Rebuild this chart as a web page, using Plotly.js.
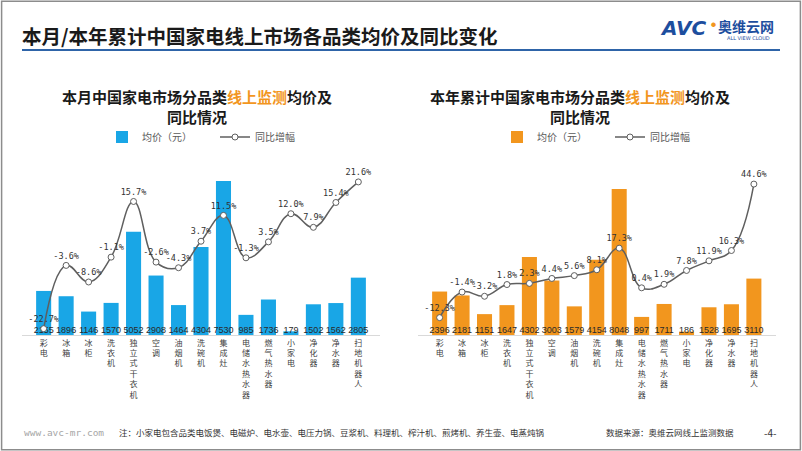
<!DOCTYPE html>
<html>
<head>
<meta charset="utf-8">
<script src="https://cdn.plot.ly/plotly-3.0.1.min.js"></script>
<style>
html,body{margin:0;padding:0;background:#fff;}
#chart{width:802px;height:451px;}
</style>
</head>
<body>
<div id="chart"></div>
<script>
// ---- data ----
const categories = ['彩电','冰箱','冰柜','洗衣机','独立式干衣机','空调','油烟机','洗碗机','集成灶','电储水热水器','燃气热水器','小家电','净化器','净水器','扫地机器人'];
const monthPrice = [2155,1896,1146,1570,5052,2908,1464,4304,7530,985,1736,179,1502,1562,2805];
const monthYoY   = [-22.7,-3.6,-8.6,-1.1,15.7,-2.6,-4.3,3.7,11.5,-1.3,3.5,12.0,7.9,15.4,21.6];
const ytdPrice   = [2396,2181,1151,1647,4302,3003,1579,4154,8048,997,1711,186,1528,1695,3110];
const ytdYoY     = [-12.3,-1.4,-3.2,1.8,2.3,4.4,5.6,8.1,17.3,0.4,1.9,7.8,11.9,16.3,44.6];
const seriesNames = ['均价（元）','同比增幅'];
const tickText = categories.map(c => c.split('').join('<br>'));
const zeros = categories.map(() => 0);

const FONT = '"Noto Sans CJK SC", "Noto Sans", sans-serif';
const BLUE = '#19A6E6';
const ORANGE = '#F2961E';
const LINE = '#5f5f5f';

function traces(prices, yoy, color, xa, yb, yl, leg) {
  return [
    {type:'bar', x:categories, y:prices, xaxis:xa, yaxis:yb, name:seriesNames[0],
     marker:{color:color}, width:0.67, legend:leg, hoverinfo:'skip'},
    {type:'scatter', mode:'text', x:categories, y:zeros, xaxis:xa, yaxis:yb,
     text:prices.map(String), textposition:'top center', showlegend:false,
     textfont:{size:9, color:'#2a2a2a', family:'"Liberation Sans", Arial, sans-serif'}, cliponaxis:false, hoverinfo:'skip'},
    {type:'scatter', mode:'lines+markers+text', x:categories, y:yoy, xaxis:xa, yaxis:yl,
     name:seriesNames[1], legend:leg,
     line:{color:LINE, width:1.5, shape:'spline', smoothing:1.2},
     marker:{size:6, color:'#fff', line:{color:LINE, width:1}},
     text:yoy.map(v => v.toFixed(1)+'%'), textposition:'top center',
     textfont:{size:8.5, color:'#333', family:'"DejaVu Sans Mono", monospace'}, cliponaxis:false, hoverinfo:'skip'}
  ];
}

const data = [].concat(
  traces(monthPrice, monthYoY, BLUE, 'x', 'y', 'y2', 'legend'),
  traces(ytdPrice, ytdYoY, ORANGE, 'x2', 'y3', 'y4', 'legend2')
);

const yDom = [1-335/451, 1-170/451];
const xCommon = {type:'category', tickmode:'array', tickvals:categories, ticktext:tickText,
  showline:true, linecolor:'#d9d9d9', linewidth:1, ticks:'', showgrid:false, zeroline:false,
  tickfont:{size:8, color:'#404040', family:FONT}, tickangle:0, fixedrange:true};
const yHidden = {visible:false, showgrid:false, zeroline:false, fixedrange:true};

const layout = {
  width:802, height:451,
  margin:{l:0, r:0, t:0, b:0},
  paper_bgcolor:'#fff', plot_bgcolor:'rgba(0,0,0,0)',
  font:{family:FONT, color:'#333'},
  bargap:0.33,
  xaxis: Object.assign({}, xCommon, {domain:[22/802, 380/802], anchor:'y'}),
  yaxis: Object.assign({}, yHidden, {domain:yDom, range:[0, 8070], anchor:'x'}),
  yaxis2: Object.assign({}, yHidden, {overlaying:'y', range:[-24.6, 25.2], anchor:'x'}),
  xaxis2: Object.assign({}, xCommon, {domain:[418/802, 775.5/802], anchor:'y3'}),
  yaxis3: Object.assign({}, yHidden, {domain:yDom, range:[0, 9096], anchor:'x2'}),
  yaxis4: Object.assign({}, yHidden, {overlaying:'y3', range:[-19.7, 50.6], anchor:'x2'}),
  legend: {orientation:'h', x:102/802, y:1-137/451, xanchor:'left', yanchor:'middle',
    font:{size:10, color:'#595959', family:FONT}, bgcolor:'rgba(0,0,0,0)',
    entrywidthmode:'pixels', entrywidth:68, itemwidth:30},
  legend2: {orientation:'h', x:497/802, y:1-137/451, xanchor:'left', yanchor:'middle',
    font:{size:10, color:'#595959', family:FONT}, bgcolor:'rgba(0,0,0,0)',
    entrywidthmode:'pixels', entrywidth:68, itemwidth:30},
  shapes: [
    {type:'rect', xref:'paper', yref:'paper', x0:0.002, x1:0.998, y0:0.003, y1:0.997,
     line:{color:'#8c8c8c', width:1.5}},
    {type:'line', xref:'paper', yref:'paper', x0:22/802, x1:780/802, y0:1-50/451, y1:1-50/451,
     line:{color:'#2E64A8', width:2}}
  ],
  annotations: [
    {xref:'paper', yref:'paper', x:20/802, y:1-35/451, xanchor:'left', yanchor:'middle', showarrow:false,
     text:'<b>本月/本年累计中国家电线上市场各品类均价及同比变化</b>', font:{size:19.5, color:'#1a1a1a', family:FONT}},
    {xref:'paper', yref:'paper', x:683/802, y:1-28/451, xanchor:'center', yanchor:'middle', showarrow:false,
     text:'<b><i>AVC</i></b>', font:{size:20, color:'#1D4E9E', family:'"DejaVu Sans", sans-serif'}},
    {xref:'paper', yref:'paper', x:713/802, y:1-23/451, xanchor:'center', yanchor:'middle', showarrow:false,
     text:'●', font:{size:5, color:'#F2961E'}},
    {xref:'paper', yref:'paper', x:746/802, y:1-26/451, xanchor:'center', yanchor:'middle', showarrow:false,
     text:'<b>奥维云网</b>', font:{size:14, color:'#1D4E9E', family:FONT}},
    {xref:'paper', yref:'paper', x:748/802, y:1-38/451, xanchor:'center', yanchor:'middle', showarrow:false,
     text:'ALL VIEW CLOUD', font:{size:5, color:'#1D4E9E', family:'"DejaVu Sans", sans-serif'}},
    {xref:'paper', yref:'paper', x:197/802, y:1-106/451, xanchor:'center', yanchor:'middle', showarrow:false,
     text:'<b>本月中国家电市场分品类<span style="color:#F2961E">线上监测</span>均价及<br>同比情况</b>',
     font:{size:15, color:'#1a1a1a', family:FONT}},
    {xref:'paper', yref:'paper', x:580/802, y:1-106/451, xanchor:'center', yanchor:'middle', showarrow:false,
     text:'<b>本年累计中国家电市场分品类<span style="color:#F2961E">线上监测</span>均价及<br>同比情况</b>',
     font:{size:15, color:'#1a1a1a', family:FONT}},
    {xref:'paper', yref:'paper', x:22/802, y:1-432/451, xanchor:'left', yanchor:'middle', showarrow:false,
     text:'www.avc-mr.com', font:{size:9.5, color:'#a6a6a6', family:'"DejaVu Sans Mono", monospace'}},
    {xref:'paper', yref:'paper', x:117/802, y:1-432/451, xanchor:'left', yanchor:'middle', showarrow:false,
     text:'注：小家电包含品类电饭煲、电磁炉、电水壶、电压力锅、豆浆机、料理机、榨汁机、煎烤机、养生壶、电蒸炖锅',
     font:{size:8.5, color:'#333', family:FONT}},
    {xref:'paper', yref:'paper', x:736/802, y:1-432/451, xanchor:'right', yanchor:'middle', showarrow:false,
     text:'数据来源：奥维云网线上监测数据', font:{size:8.5, color:'#333', family:FONT}},
    {xref:'paper', yref:'paper', x:770/802, y:1-432/451, xanchor:'center', yanchor:'middle', showarrow:false,
     text:'-4-', font:{size:10, color:'#333', family:FONT}}
  ]
};

Plotly.newPlot('chart', data, layout, {displayModeBar:false, staticPlot:true});
</script>
</body>
</html>
